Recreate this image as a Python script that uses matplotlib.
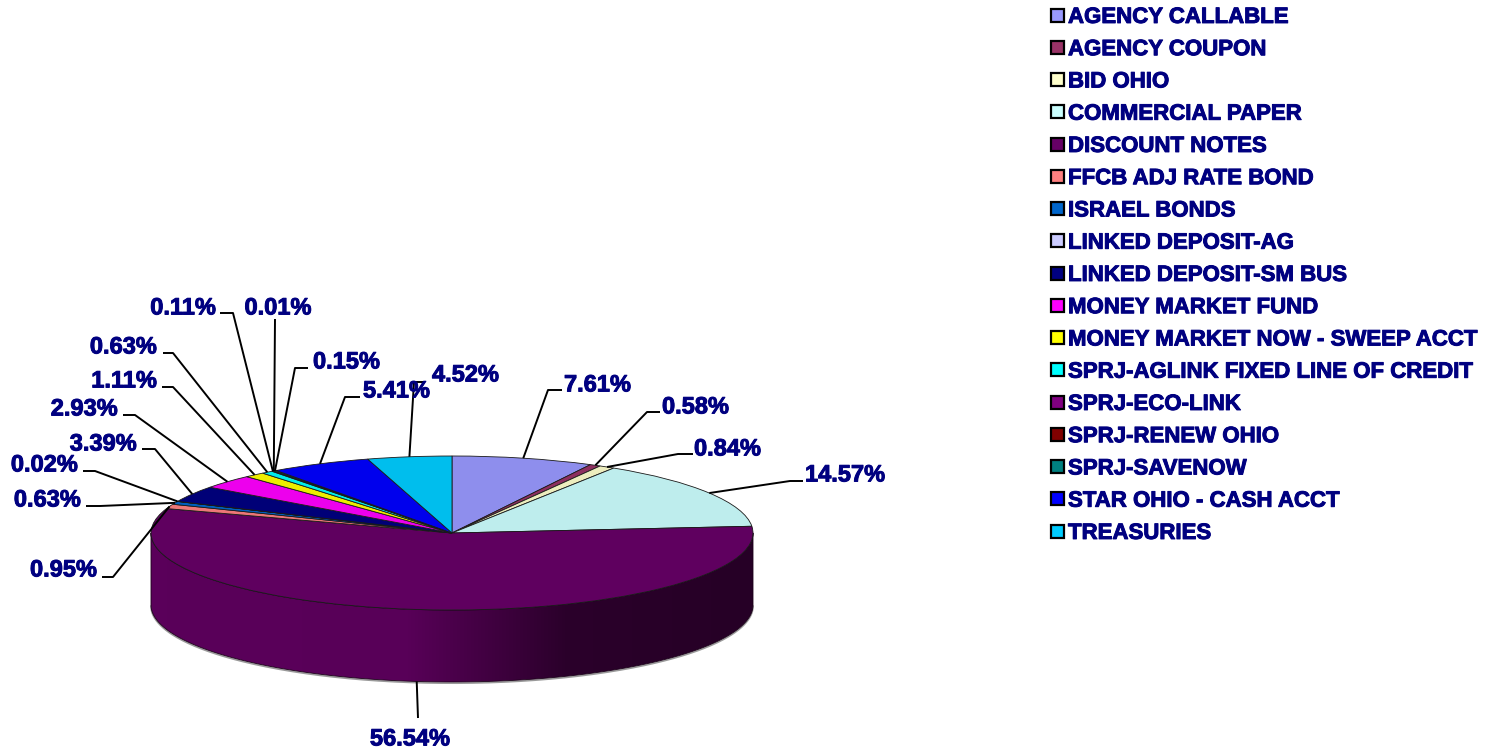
import numpy as np
import matplotlib
matplotlib.use("Agg")
import matplotlib.pyplot as plt
import matplotlib.patheffects as pe
from matplotlib.patches import Polygon, Rectangle
from matplotlib.transforms import Affine2D
from matplotlib.colors import to_rgb

plt.rcParams['font.family'] = ['Liberation Sans', 'DejaVu Sans']

# ---------------- data ----------------
categories = ["AGENCY CALLABLE", "AGENCY COUPON", "BID OHIO", "COMMERCIAL PAPER",
              "DISCOUNT NOTES", "FFCB ADJ RATE BOND", "ISRAEL BONDS", "LINKED DEPOSIT-AG",
              "LINKED DEPOSIT-SM BUS", "MONEY MARKET FUND", "MONEY MARKET NOW - SWEEP ACCT",
              "SPRJ-AGLINK FIXED LINE OF CREDIT", "SPRJ-ECO-LINK", "SPRJ-RENEW OHIO",
              "SPRJ-SAVENOW", "STAR OHIO - CASH ACCT", "TREASURIES"]
percentages = [7.61, 0.58, 0.84, 14.57, 56.54, 0.95, 0.63, 0.02, 3.39, 2.93, 1.11,
               0.63, 0.11, 0.01, 0.15, 5.41, 4.52]
colors = ["#9999FF", "#993366", "#FFFFCC", "#CCFFFF", "#660066", "#FF8080", "#0066CC",
          "#CCCCFF", "#000080", "#FF00FF", "#FFFF00", "#00FFFF", "#800080", "#800000",
          "#008080", "#0000FF", "#00CCFF"]

# ---------------- layout (pixels) ----------------
W, H = 1500, 751
cx, cy = 452, 533          # pie centre
rx, ry = 301, 77           # ellipse radii of top face
depth = 72                 # thickness of the 3-D side
TXT = '#000080'

# (elbow, end, text position, horizontal alignment) for each data label
label_layout = [
    ((548, 390), (562, 390), (564, 383), 'left'),
    ((647, 412), (660, 412), (662, 405), 'left'),
    ((678, 454), (693, 454), (694, 447), 'left'),
    ((790, 481), (803, 481), (805, 473), 'left'),
    ((418, 718), (418, 718), (410, 737), 'center'),
    ((113, 577), (102, 577), (97, 568), 'right'),
    ((100, 506), (86, 506), (81, 498), 'right'),
    ((95, 471), (83, 471), (78, 463), 'right'),
    ((155, 449), (142, 449), (137, 442), 'right'),
    ((135, 415), (123, 415), (118, 407), 'right'),
    ((173, 387), (162, 387), (157, 379), 'right'),
    ((173, 353), (163, 353), (157, 345), 'right'),
    ((233, 313), (220, 313), (216, 306), 'right'),
    ((275, 319), (275, 319), (278, 306), 'center'),
    ((295, 368), (308, 368), (313, 360), 'left'),
    ((345, 397), (360, 397), (363, 389), 'left'),
    ((414, 382), (425, 382), (432, 373), 'left'),
]

fig = plt.figure(figsize=(15, 7.51), dpi=100)
ax = fig.add_axes([0, 0, 1, 1])

bolder = [pe.withStroke(linewidth=0.7, foreground=TXT)]


def shade_col(c, f):
    r, g, b = to_rgb(c)
    return (r * f, g * f, b * f)


def edge_pt(t_deg, dy=0.0):
    t = np.radians(t_deg)
    return cx + rx * np.sin(t), cy - ry * np.cos(t) + dy


top_colors = [shade_col(c, 0.93) for c in colors]
total = float(sum(percentages))
cum = np.concatenate([[0], np.cumsum(percentages)])
a_start = 360.0 * cum[:-1] / total
a_end = 360.0 * cum[1:] / total


def side_shade(x):
    u = (x - cx) / rx
    return np.interp(u, [-1.0, -0.15, 0.38, 1.0], [0.95, 0.93, 0.45, 0.40])


# ---------------- side wall ----------------
xs = np.linspace(cx - rx, cx + rx, 800)
for i in range(len(percentages)):
    lo, hi = max(a_start[i], 90.0), min(a_end[i], 270.0)
    if hi <= lo:
        continue
    ts = np.linspace(lo, hi, 200)
    tx, tyy = edge_pt(ts)
    bx, byy = edge_pt(ts[::-1], depth)
    poly = Polygon(np.column_stack([np.r_[tx, bx], np.r_[tyy, byy]]), closed=True,
                   facecolor='none', edgecolor='#1a0018', linewidth=0.6, zorder=3)
    ax.add_patch(poly)
    base = np.array(to_rgb(colors[i])) * 0.93
    grad = base[None, None, :] * side_shade(xs)[None, :, None]
    im = ax.imshow(grad, extent=(cx - rx, cx + rx, cy + ry + depth + 2, cy - 2),
                   aspect='auto', interpolation='bilinear', zorder=2)
    clip = Polygon(np.column_stack([np.r_[tx, bx], np.r_[tyy, byy]]), closed=True,
                   transform=ax.transData)
    im.set_clip_path(clip)

# soft shadow along the bottom edge
ts = np.linspace(90, 270, 300)
sx, sy = edge_pt(ts, depth + 1.2)
ax.plot(sx, sy, color='#9a9a9a', lw=1.2, zorder=1)

# ---------------- top face (pie squashed into an ellipse) ----------------
wedges, _ = ax.pie(percentages, colors=top_colors, startangle=270, counterclock=True,
                   radius=rx, center=(cx, cy),
                   wedgeprops=dict(edgecolor='#1a1a1a', linewidth=0.6))
squash = Affine2D().translate(-cx, -cy).scale(1, ry / rx).translate(cx, cy)
for w in wedges:
    w.set_transform(squash + ax.transData)
    w.set_zorder(4)

# ---------------- data labels ----------------
lab_fs = 17
lab_half_cap = 0.358 * lab_fs * 100 / 72
for i, v in enumerate(percentages):
    mid = 0.5 * (a_start[i] + a_end[i])
    dy = depth if 90 < mid < 270 else 0
    sxp, syp = edge_pt(mid, dy)
    (ex, ey), (nx, ny), (tx_, ty_), ha = label_layout[i]
    ax.plot([sxp, ex, nx], [syp, ey, ny], color='black', lw=1.4, zorder=5,
            solid_capstyle='butt')
    ax.text(tx_, ty_ + lab_half_cap, f"{v:.2f}%", ha=ha, va='baseline',
            fontsize=lab_fs, fontweight='bold', color=TXT, zorder=6,
            path_effects=bolder)

# ---------------- legend ----------------
leg_fs = 16
leg_half_cap = 0.358 * leg_fs * 100 / 72
leg_y0, leg_dy = 15, 32.25
for i, (name, c) in enumerate(zip(categories, colors)):
    yc = leg_y0 + i * leg_dy
    ax.add_patch(Rectangle((1050.5, yc - 6.5), 13, 13, facecolor=c, edgecolor='black',
                           linewidth=1.6, zorder=5))
    ax.text(1068, yc + leg_half_cap, name, ha='left', va='baseline', fontsize=leg_fs,
            fontweight='bold', color=TXT, zorder=6, path_effects=bolder)

ax.set_aspect('auto')
ax.set_xlim(0, W)
ax.set_ylim(H, 0)
ax.axis('off')

fig.savefig('out.png', dpi=100)
